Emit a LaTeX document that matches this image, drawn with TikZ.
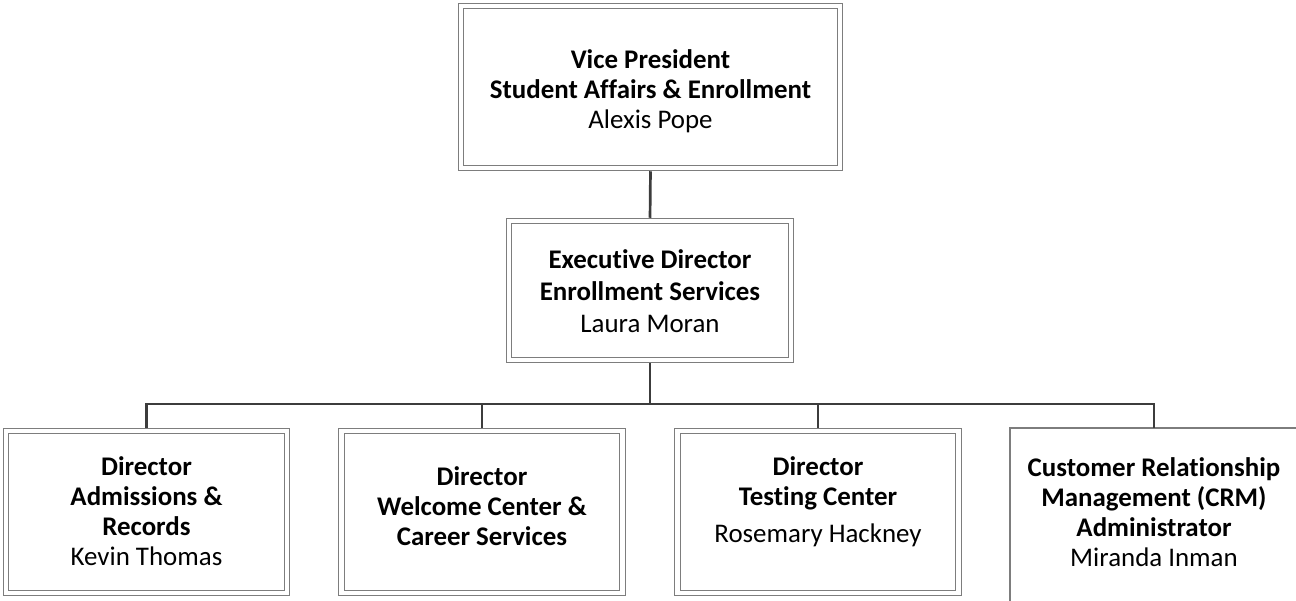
\documentclass[tikz,border=0pt]{standalone}
\usepackage{fontspec}
\setmainfont{Carlito}[Ligatures=NoCommon]
\definecolor{framegray}{RGB}{125,125,125}
\definecolor{conngray}{RGB}{60,60,60}
\begin{document}
\begin{tikzpicture}[x=1pt,y=-1pt,
  frame/.style={draw=framegray, double=white, double distance=4.2pt, line width=1.1pt, inner sep=0pt},
  single/.style={draw=framegray, line width=1.3pt},
  txt/.style={align=center, font=\fontsize{26.9}{30}\selectfont, inner sep=0pt},
  conn/.style={draw=conngray, line width=2.7pt, line join=miter}]
\useasboundingbox (0,0) rectangle (1296,600);
\clip (0,0) rectangle (1296,600);
% frames
\node[frame, minimum width=379pt, minimum height=162pt] (vp) at (650.5,87) {};
\node[frame, minimum width=282pt, minimum height=139pt] (ed) at (650,290.5) {};
\node[frame, minimum width=281pt, minimum height=162pt] (b1) at (146.5,512) {};
\node[frame, minimum width=281pt, minimum height=162pt] (b2) at (482,512) {};
\node[frame, minimum width=281pt, minimum height=162pt] (b3) at (818,512) {};
\coordinate (crmtop) at (1154,428);
\draw[single] (1010,615) -- (1010,428) -- (1305,428);
% texts
\node[txt] (vpt) at (650.5,91) {\textbf{Vice President}\\\textbf{Student Affairs \& Enrollment}\\Alexis Pope};
\node[txt, font=\fontsize{26.9}{32}\selectfont] (edt) at (650,291.5) {\textbf{Executive Director}\\\textbf{Enrollment Services}\\Laura Moran};
\node[txt] (b1t) at (146.5,511.5) {\textbf{Director}\\\textbf{Admissions \&}\\\textbf{Records}\\Kevin Thomas};
\node[txt] (b2t) at (482,506.5) {\textbf{Director}\\\textbf{Welcome Center \&}\\\textbf{Career Services}};
\node[txt] (b3t) at (818,502) {\textbf{Director}\\\textbf{Testing Center}\\[7pt]Rosemary Hackney};
\node[txt] (crmt) at (1154,512) {\textbf{Customer Relationship}\\\textbf{Management (CRM)}\\\textbf{Administrator}\\Miranda Inman};
% connectors
\coordinate (bar) at (650,404);
\draw[conn, shorten <=2.7pt, shorten >=2.7pt] (vp.south) -- (ed.north);
\draw[conn, shorten <=2.7pt] (ed.south) -- (bar);
\draw[conn, shorten <=2.7pt] (b1.north) -- (b1.north |- bar) -- (crmtop |- bar) -- (crmtop);
\draw[conn, shorten >=2.7pt] (b2.north |- bar) -- (b2.north);
\draw[conn, shorten >=2.7pt] (b3.north |- bar) -- (b3.north);
\end{tikzpicture}
\end{document}
